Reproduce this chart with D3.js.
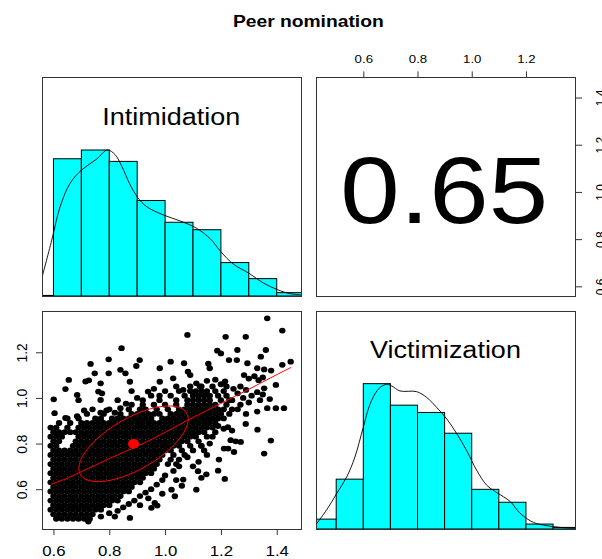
<!DOCTYPE html>
<html><head><meta charset="utf-8">
<script src="https://cdn.jsdelivr.net/npm/d3@7"></script>
<style>body{margin:0;background:#fff}svg{display:block}text{font-family:"Liberation Sans",Arial,Helvetica,sans-serif}</style>
</head><body><svg id="c" width="602" height="559"></svg>
<script>
// ---------------- data ----------------
const chartTitle = "Peer nomination";
const variableNames = ["Intimidation", "Victimization"];
const correlationText = "0.65";
const intimDomain = [0.559, 1.487];
const victDomain = [0.4255, 1.381];
const intimTicks = [0.6, 0.8, 1.0, 1.2, 1.4];
const victTicks = [0.6, 0.8, 1.0, 1.2];

const intimBreaks = [0.5, 0.6, 0.7, 0.8, 0.9, 1.0, 1.1, 1.2, 1.3, 1.4, 1.5];
const intimHeights = [0.004, 0.94, 1.0, 0.922, 0.654, 0.505, 0.454, 0.229, 0.119, 0.023];
const victBreaks = [0.4, 0.5, 0.6, 0.7, 0.8, 0.9, 1.0, 1.1, 1.2, 1.3, 1.4];
const victHeights = [0.068, 0.343, 1.0, 0.852, 0.802, 0.659, 0.273, 0.184, 0.034, 0.011];

const intimDensity = [[0.558,0.119],[0.594,0.383],[0.624,0.612],[0.66,0.773],[0.702,0.865],[0.755,0.938],[0.793,1.0],[0.821,0.968],[0.845,0.888],[0.875,0.761],[0.901,0.677],[0.934,0.612],[0.994,0.555],[1.054,0.514],[1.114,0.463],[1.161,0.394],[1.2,0.303],[1.245,0.218],[1.302,0.154],[1.352,0.089],[1.402,0.044],[1.448,0.016],[1.486,0.009]];
const victDensity = [[0.425,0.03],[0.465,0.132],[0.502,0.245],[0.539,0.359],[0.569,0.495],[0.6,0.7],[0.625,0.859],[0.655,0.961],[0.684,0.995],[0.705,0.984],[0.735,0.95],[0.797,0.945],[0.834,0.905],[0.871,0.836],[0.908,0.757],[0.945,0.655],[0.981,0.541],[1.018,0.405],[1.055,0.302],[1.093,0.25],[1.142,0.189],[1.178,0.109],[1.228,0.045],[1.277,0.023],[1.339,0.009],[1.382,0.005]];

const loessCurve = [[0.592,0.622],[0.65,0.648],[0.70,0.677],[0.75,0.705],[0.80,0.734],[0.85,0.761],[0.90,0.788],[0.95,0.817],[1.00,0.849],[1.05,0.882],[1.10,0.914],[1.15,0.945],[1.20,0.976],[1.25,1.007],[1.30,1.038],[1.35,1.07],[1.40,1.102],[1.452,1.134]];
const meanIntim = 0.887, meanVict = 0.799, sdIntim = 0.196, sdVict = 0.166, corr = 0.65;

// scatter (x = Intimidation, y = Victimization), dense part by rows
const scatterRowY = [0.47,0.49,0.51,0.53,0.55,0.57,0.59,0.61,0.63,0.65,0.67,0.69,0.71,0.73,0.75,0.77,0.79,0.81,0.83,0.85,0.87,0.89,0.91,0.93,0.95,0.97,0.99,1.01,1.03,1.05];
const scatterRowX = [
 [0.61,0.63,0.65,0.67,0.69,0.71,0.73],
 [0.60,0.62,0.64,0.66,0.68,0.70,0.72,0.74],
 [0.59,0.61,0.63,0.65,0.67,0.69,0.71,0.73,0.75,0.77],
 [0.60,0.62,0.64,0.66,0.68,0.70,0.72,0.74,0.76,0.78,0.80],
 [0.59,0.61,0.63,0.65,0.67,0.69,0.71,0.73,0.75,0.77,0.79,0.81,0.83],
 [0.60,0.62,0.64,0.66,0.68,0.70,0.72,0.74,0.76,0.78,0.80,0.82,0.84],
 [0.59,0.61,0.63,0.65,0.67,0.69,0.71,0.73,0.75,0.77,0.79,0.81,0.83,0.85,0.87],
 [0.60,0.62,0.64,0.66,0.68,0.70,0.72,0.74,0.76,0.78,0.80,0.82,0.84,0.86,0.88],
 [0.59,0.61,0.63,0.65,0.67,0.69,0.71,0.73,0.75,0.77,0.79,0.81,0.83,0.85,0.87,0.89,0.91],
 [0.60,0.62,0.64,0.66,0.68,0.70,0.72,0.74,0.76,0.78,0.80,0.82,0.84,0.86,0.88,0.90,0.92],
 [0.59,0.61,0.63,0.65,0.67,0.69,0.71,0.73,0.75,0.77,0.79,0.81,0.83,0.85,0.87,0.89,0.91,0.93,0.95],
 [0.60,0.62,0.64,0.66,0.68,0.70,0.72,0.74,0.76,0.78,0.80,0.82,0.84,0.86,0.88,0.90,0.92,0.94,0.96],
 [0.59,0.61,0.63,0.65,0.67,0.69,0.71,0.73,0.75,0.77,0.79,0.81,0.83,0.85,0.87,0.89,0.91,0.93,0.95,0.97,1.01,1.04],
 [0.60,0.62,0.64,0.66,0.68,0.70,0.72,0.74,0.76,0.78,0.80,0.82,0.84,0.86,0.88,0.90,0.92,0.94,0.96,0.98,1.02,1.05],
 [0.59,0.61,0.63,0.65,0.67,0.69,0.71,0.73,0.75,0.77,0.79,0.81,0.83,0.85,0.87,0.89,0.91,0.93,0.95,0.97,0.99,1.03,1.07],
 [0.60,0.62,0.64,0.66,0.68,0.70,0.72,0.74,0.76,0.78,0.80,0.82,0.84,0.86,0.88,0.90,0.92,0.94,0.96,0.98,1.00,1.02,1.06,1.10],
 [0.59,0.61,0.67,0.69,0.71,0.73,0.75,0.77,0.79,0.81,0.83,0.85,0.87,0.89,0.91,0.93,0.95,0.97,0.99,1.01,1.03,1.05,1.09,1.13],
 [0.60,0.62,0.68,0.70,0.72,0.74,0.76,0.78,0.80,0.82,0.84,0.86,0.88,0.90,0.92,0.94,0.96,0.98,1.00,1.02,1.04,1.06,1.08,1.12],
 [0.59,0.61,0.63,0.69,0.71,0.73,0.75,0.77,0.79,0.81,0.83,0.85,0.87,0.89,0.91,0.93,0.95,0.97,0.99,1.01,1.03,1.05,1.07,1.09,1.11,1.15],
 [0.60,0.62,0.64,0.66,0.68,0.70,0.72,0.74,0.76,0.78,0.80,0.82,0.84,0.86,0.88,0.90,0.92,0.94,0.96,0.98,1.00,1.02,1.04,1.06,1.08,1.10,1.12,1.14,1.18],
 [0.59,0.61,0.65,0.69,0.71,0.73,0.75,0.77,0.79,0.81,0.83,0.85,0.87,0.89,0.91,0.93,0.95,0.97,0.99,1.01,1.03,1.05,1.07,1.09,1.11,1.13,1.15,1.17],
 [0.62,0.66,0.70,0.72,0.74,0.76,0.78,0.80,0.82,0.84,0.86,0.88,0.90,0.92,0.94,0.96,0.98,1.00,1.02,1.04,1.06,1.08,1.10,1.12,1.14,1.16,1.18],
 [0.65,0.69,0.75,0.77,0.81,0.83,0.85,0.87,0.89,0.91,0.93,0.95,0.99,1.01,1.03,1.05,1.07,1.09,1.11,1.13,1.15,1.17,1.19,1.21],
 [0.72,0.78,0.84,0.88,0.90,0.92,0.94,0.96,0.98,1.02,1.04,1.06,1.08,1.10,1.12,1.14,1.16,1.18,1.20,1.23],
 [0.80,0.87,0.91,0.93,0.97,1.01,1.05,1.07,1.09,1.11,1.13,1.15,1.17,1.19,1.21,1.24],
 [0.88,0.92,0.96,1.00,1.04,1.08,1.10,1.12,1.14,1.16,1.18,1.22],
 [0.92,0.98,1.04,1.08,1.10,1.12,1.14,1.16,1.20,1.23],
 [0.95,1.02,1.07,1.10,1.12,1.14,1.16,1.19,1.22],
 [1.00,1.05,1.09,1.11,1.13,1.15,1.18,1.21],
 [1.04,1.09,1.13,1.17,1.22]
];
// scattered individual points [Intimidation, Victimization]
const scatterPoints = [[1.366,1.349],[1.42,1.295],[1.08,1.276],[1.217,1.268],[1.289,1.268],[0.844,1.218],[1.187,1.207],[1.259,1.21],[1.361,1.21],[1.343,1.181],[1.20,1.195],[1.229,1.166],[1.257,1.166],[0.798,1.169],[0.909,1.166],[1.02,1.159],[1.068,1.152],[0.733,1.149],[1.155,1.15],[1.16,1.13],[1.295,1.152],[1.45,1.159],[1.42,1.145],[0.897,1.14],[1.33,1.13],[1.355,1.125],[1.38,1.12],[0.981,1.13],[0.84,1.123],[1.082,1.115],[1.09,1.10],[0.748,1.108],[0.798,1.108],[0.858,1.108],[1.283,1.10],[1.30,1.085],[1.32,1.095],[1.335,1.078],[1.35,1.09],[0.655,1.079],[0.715,1.072],[0.727,1.077],[0.874,1.071],[0.981,1.071],[1.029,1.086],[1.112,1.064],[1.125,1.05],[1.15,1.075],[0.769,1.064],[1.18,1.08],[1.20,1.06],[1.215,1.072],[0.643,1.039],[1.065,1.035],[0.88,1.03],[0.939,1.028],[0.96,1.04],[0.761,1.028],[0.774,1.02],[0.685,1.013],[1.355,1.042],[1.397,1.057],[0.601,0.994],[0.769,0.991],[0.69,0.99],[0.604,0.933],[1.366,0.955],[1.397,0.955],[1.426,0.955],[1.26,1.02],[1.28,1.00],[1.31,1.01],[1.33,1.025],[1.35,1.015],[1.27,0.97],[1.30,0.98],[1.34,0.99],[1.375,0.995],[1.245,1.04],[1.27,1.05],[1.29,1.035],[1.24,0.99],[1.26,0.95],[1.29,0.93],[1.33,0.94],[0.643,0.912],[0.685,0.92],[0.71,0.945],[0.74,0.95],[0.769,0.935],[0.79,0.945],[0.82,0.935],[0.84,0.955],[0.86,0.975],[0.83,0.99],[0.90,1.00],[0.98,1.01],[1.19,0.877],[1.21,0.865],[1.225,0.872],[1.24,0.857],[1.289,0.886],[1.331,0.861],[1.235,0.815],[1.253,0.81],[1.271,0.807],[1.379,0.813],[1.211,0.778],[1.226,0.778],[1.247,0.763],[1.355,0.756],[1.193,0.73],[1.19,0.681],[1.214,0.645],[1.118,0.679],[1.148,0.665],[1.065,0.642],[1.023,0.598],[1.112,0.598],[1.035,0.569],[0.963,0.54],[0.972,0.528],[0.951,0.518],[0.874,0.474],[0.82,0.48],[0.77,0.48],[0.725,0.458],[1.15,0.75],[1.13,0.79],[1.16,0.80],[1.12,0.72],[1.10,0.70],[1.17,0.83],[1.14,0.77],[1.08,0.74],[1.05,0.70],[1.03,0.68],[1.00,0.66],[0.99,0.64],[0.97,0.62],[0.95,0.60],[0.93,0.585],[0.91,0.57],[0.89,0.55],[0.87,0.535],[0.85,0.52],[0.83,0.505],[0.80,0.495],[1.04,0.64],[1.06,0.615],[0.99,0.58],[0.94,0.56],[0.91,0.53],[1.13,0.65]];

// ---------------- layout ----------------
const svg = d3.select("#c");
const col1 = [42, 301], col2 = [316, 575], row1 = [77, 296], row2 = [311, 529];
const SX = 1.12; // horizontal glyph stretch of the original
const xI = d3.scaleLinear().domain(intimDomain).range(col1);
const yI = d3.scaleLinear().domain(intimDomain).range([row1[1], row1[0]]);
const xV = d3.scaleLinear().domain(victDomain).range(col2);
const yV = d3.scaleLinear().domain(victDomain).range([row2[1], row2[0]]);
const yH1 = d3.scaleLinear().domain([0, 1.5]).range([row1[1], row1[0]]);
const yH2 = d3.scaleLinear().domain([0, 1.5]).range([row2[1], row2[0]]);

const defs = svg.append("defs");
function clip(id, c, r) {
  defs.append("clipPath").attr("id", id).append("rect")
    .attr("x", c[0]).attr("y", r[0]).attr("width", c[1]-c[0]).attr("height", r[1]-r[0]);
  return "url(#" + id + ")";
}
const c11 = clip("c11", col1, row1), c21 = clip("c21", col1, row2), c22 = clip("c22", col2, row2);

// title
svg.append("text").attr("transform", `translate(308.3,27.3) scale(${SX},1)`)
  .attr("text-anchor", "middle").attr("font-weight", "bold").attr("font-size", 17.2).text(chartTitle);

// histogram panels
function hist(clipUrl, xs, ys, breaks, heights, dens, label, labelX, labelY) {
  const g = svg.append("g").attr("clip-path", clipUrl);
  g.selectAll("rect").data(heights).join("rect")
    .attr("x", (d, i) => xs(breaks[i])).attr("width", (d, i) => xs(breaks[i+1]) - xs(breaks[i]))
    .attr("y", d => ys(d)).attr("height", d => ys(0) - ys(d))
    .attr("fill", "#00ffff").attr("stroke", "#000").attr("stroke-width", 1);
  g.append("path").datum(dens)
    .attr("d", d3.line().x(d => xs(d[0])).y(d => ys(d[1])).curve(d3.curveCatmullRom))
    .attr("fill", "none").attr("stroke", "#000").attr("stroke-width", 0.9);
  svg.append("text").attr("transform", `translate(${labelX},${labelY}) scale(${SX},1)`)
    .attr("text-anchor", "middle").attr("font-size", 24.1).text(label);
}
hist(c11, xI, yH1, intimBreaks, intimHeights, intimDensity, variableNames[0], 171.3, 125);
hist(c22, xV, yH2, victBreaks, victHeights, victDensity, variableNames[1], 445.4, 358.3);

// correlation panel
svg.append("text").attr("transform", `translate(444.2,223.3) scale(${SX},1)`)
  .attr("text-anchor", "middle").attr("font-size", 95.4).text(correlationText);

// scatter panel
const pts = [];
scatterRowY.forEach((y, i) => scatterRowX[i].forEach(x => pts.push([x, y])));
scatterPoints.forEach(p => pts.push(p));
const gs = svg.append("g").attr("clip-path", c21);
gs.selectAll("ellipse.pt").data(pts).join("ellipse").attr("class", "pt")
  .attr("cx", d => xI(d[0])).attr("cy", d => yV(d[1])).attr("rx", 3.2).attr("ry", 2.9).attr("fill", "#000");
gs.append("path").datum(loessCurve)
  .attr("d", d3.line().x(d => xI(d[0])).y(d => yV(d[1])).curve(d3.curveCatmullRom))
  .attr("fill", "none").attr("stroke", "#ff0000").attr("stroke-width", 1);
// correlation ellipse (psych draw.ellipse)
const th = 1 / Math.sqrt(2), a = Math.sqrt(1 + corr), b = Math.sqrt(1 - corr);
const ell = d3.range(0, 52).map(k => {
  const ang = k * 2 * Math.PI / 51, c = Math.cos(ang), s = Math.sin(ang);
  return [(c * a * th - s * b * th) * sdIntim + meanIntim, (c * a * th + s * b * th) * sdVict + meanVict];
});
gs.append("path").datum(ell)
  .attr("d", d3.line().x(d => xI(d[0])).y(d => yV(d[1])))
  .attr("fill", "none").attr("stroke", "#ff0000").attr("stroke-width", 1);
gs.append("ellipse").attr("cx", xI(meanIntim)).attr("cy", yV(meanVict)).attr("rx", 5.5).attr("ry", 4.9).attr("fill", "#ff0000");

// panel boxes
[[col1, row1], [col2, row1], [col1, row2], [col2, row2]].forEach(([c, r]) => {
  svg.append("rect").attr("x", c[0] + 0.5).attr("y", r[0] + 0.5)
    .attr("width", c[1] - c[0]).attr("height", r[1] - r[0])
    .attr("fill", "none").attr("stroke", "#333").attr("stroke-width", 1);
});

// axes
const fmt = d3.format(".1f");
const axB = svg.append("g").attr("transform", `translate(0,${row2[1]})`)
  .call(d3.axisBottom(xI).tickValues(intimTicks).tickSize(6).tickFormat(fmt));
axB.selectAll("text").attr("y", 27.5).attr("dy", null).attr("font-size", 15)
  .attr("transform", `scale(${SX},1)`);
const axT = svg.append("g").attr("transform", `translate(0,${row1[0]})`)
  .call(d3.axisTop(xV).tickValues(victTicks).tickSize(5.6).tickFormat(fmt));
axT.selectAll("text").attr("y", -13.7).attr("dy", null).attr("font-size", 11.8)
  .attr("transform", `scale(${SX},1)`);
const axL = svg.append("g").attr("transform", `translate(${col1[0]},0)`)
  .call(d3.axisLeft(yV).tickValues(victTicks).tickSize(6).tickFormat(fmt));
axL.selectAll("text").attr("x", 0).attr("y", 0).attr("dy", null).attr("text-anchor", "middle")
  .attr("font-size", 13.8).attr("transform", `translate(-15.3,0) scale(${SX},1) rotate(-90)`);
const axR = svg.append("g").attr("transform", `translate(${col2[1]},0)`)
  .call(d3.axisRight(yI).tickValues(intimTicks).tickSize(7).tickFormat(fmt));
axR.selectAll("text").attr("x", 0).attr("y", 0).attr("dy", null).attr("text-anchor", "middle")
  .attr("font-size", 12).attr("transform", `translate(29.6,0) scale(${SX},1) rotate(-90)`);
[axB, axT, axL, axR].forEach(g => {
  g.select(".domain").remove();
  g.selectAll("line").attr("stroke", "#333");
  g.selectAll("text").attr("fill", "#000").attr("font-family", '"Liberation Sans",Arial,sans-serif');
});
</script></body></html>
